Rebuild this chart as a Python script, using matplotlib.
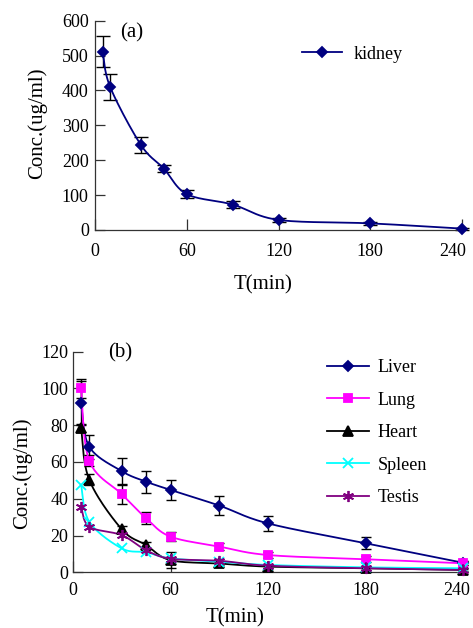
import numpy as np
import matplotlib.pyplot as plt
import matplotlib.transforms as mtransforms

plt.rcParams['font.family'] = ['Liberation Serif', 'DejaVu Serif']

# sampling times (min)
t = [5, 10, 30, 45, 60, 90, 120, 180, 240]

# (a) kidney
kidney = [511, 409, 244, 176, 103, 73, 29, 19, 4]
kidney_err = [45, 37, 22, 10, 11, 10, 6, 4, 3]

# (b) other tissues
liver = [92, 68.3, 55, 49.3, 44.8, 36.3, 26.6, 15.8, 5.2]
liver_err = [11.8, 6.5, 7, 6, 5.5, 5, 4.1, 3.3, 1]
lung = [100, 60.7, 42.5, 29.4, 19.4, 14, 9.4, 7.1, 4.9]
lung_err = [5, 3, 5.2, 3.3, 2.4, 2, 1.5, 1.5, 1]
heart = [78.5, 50.3, 23.4, 14.8, 6.6, 4.8, 3.1, 2.2, 1.3]
heart_err = [2, 3, 2, 1.5, 4.5, 1, 1, 1, 0.5]
spleen = [47.5, 27.5, 13, 10.9, 7.6, 5.8, 4, 2.7, 2.2]
testis = [35.6, 24.8, 20.2, 12, 7.4, 6.3, 3.6, 2.2, 1.3]

W, H = 473, 628


def smooth(x, y, sx, sy, n=25):
    # bezier smoothing like the spreadsheet "smoothed line" option
    p = np.column_stack([np.asarray(x, float) * sx, np.asarray(y, float) * sy])
    pts = [p[0]] + list(p) + [p[-1]]
    out = []
    s = np.linspace(0, 1, n)[:, None]
    for i in range(1, len(pts) - 2):
        p0, p1, p2, p3 = pts[i - 1], pts[i], pts[i + 1], pts[i + 2]
        c1 = p1 + (p2 - p0) / 6
        c2 = p2 - (p3 - p1) / 6
        seg = (1 - s) ** 3 * p1 + 3 * (1 - s) ** 2 * s * c1 + 3 * (1 - s) * s ** 2 * c2 + s ** 3 * p2
        out.append(seg)
    out = np.vstack(out)
    return out[:, 0] / sx, out[:, 1] / sy


def style(ax, ymax, ystep, xpad, ypad, last_shift):
    ax.set_xlim(0, 240)
    ax.set_ylim(0, ymax)
    ax.set_xticks([0, 60, 120, 180, 240])
    ax.set_yticks(np.arange(0, ymax + 1, ystep))
    for side in ['top', 'right']:
        ax.spines[side].set_visible(False)
    for side in ['left', 'bottom']:
        ax.spines[side].set_linewidth(0.9)
        ax.spines[side].set_color('#333333')
    ax.tick_params(axis='x', direction='in', length=8, width=0.9, pad=xpad,
                   labelsize=13, color='#333333')
    ax.tick_params(axis='y', direction='in', length=7, width=0.9, pad=ypad,
                   labelsize=13, color='#333333')
    # keep the "240" label inside the figure
    lab = ax.get_xticklabels()[-1]
    off = mtransforms.ScaledTranslation(last_shift / 100, 0, fig.dpi_scale_trans)
    lab.set_transform(lab.get_transform() + off)


def series(ax, x, y, err, color, marker, ms, label, sx, sy, capsize):
    if err is not None:
        ax.errorbar(x, y, yerr=err, fmt='none', ecolor='black', elinewidth=1,
                    capsize=capsize, capthick=1, zorder=2, clip_on=False)
    xs, ys = smooth(x, y, sx, sy)
    ax.plot(xs, ys, color=color, lw=1.3, zorder=3, clip_on=False)
    ax.plot(x, y, linestyle='none', marker=marker, ms=ms, color=color,
            mec=color, mew=1.3, zorder=4, clip_on=False)
    ax.plot([], [], color=color, lw=1.3, marker=marker, ms=ms, mew=1.3, label=label)


fig = plt.figure(figsize=(W / 100, H / 100), dpi=100)

# ---- (a) kidney
ax1 = fig.add_axes([95 / W, 1 - 230 / H, 367 / W, 209.3 / H])
sx1, sy1 = 367 / 240, 209.3 / 600
series(ax1, t, kidney, kidney_err, '#000080', 'D', 5.5, 'kidney', sx1, sy1, 4.7)
style(ax1, 600, 100, 9.5, 4.5, -9)
ax1.set_ylabel('Conc.(ug/ml)', fontsize=15)
ax1.yaxis.set_label_coords(-0.131, 0.511)
ax1.set_xlabel('T(min)', fontsize=15)
ax1.xaxis.set_label_coords(0.458, -0.215)
ax1.text(0.068, 0.941, '(a)', transform=ax1.transAxes, fontsize=15, va='center')
ax1.legend(loc='upper left', bbox_to_anchor=(0.564, 0.88), frameon=False,
           fontsize=13, handlelength=2.2, handletextpad=0.65, borderpad=0,
           borderaxespad=0)

# ---- (b) other tissues
ax2 = fig.add_axes([73 / W, 1 - 572.3 / H, 390 / W, 220.6 / H])
sx2, sy2 = 390 / 240, 220.6 / 120
series(ax2, t, liver, liver_err, '#000080', 'D', 5.5, 'Liver', sx2, sy2, 3.8)
series(ax2, t, lung, lung_err, '#FF00FF', 's', 6, 'Lung', sx2, sy2, 3.8)
series(ax2, t, heart, heart_err, 'black', '^', 6.5, 'Heart', sx2, sy2, 3.8)
series(ax2, t, spleen, None, '#00FFFF', 'x', 7, 'Spleen', sx2, sy2, 3.8)
series(ax2, t, testis, None, '#800080', (6, 2, 0), 8, 'Testis', sx2, sy2, 3.8)
style(ax2, 120, 20, 7, 3.5, -6)
ax2.set_ylabel('Conc.(ug/ml)', fontsize=15)
ax2.yaxis.set_label_coords(-0.105, 0.45)
ax2.set_xlabel('T(min)', fontsize=15)
ax2.xaxis.set_label_coords(0.415, -0.162)
ax2.text(0.09, 0.994, '(b)', transform=ax2.transAxes, fontsize=15, va='center')
ax2.legend(loc='upper left', bbox_to_anchor=(0.651, 0.966), frameon=False,
           fontsize=13, handlelength=2.35, handletextpad=0.45, borderpad=0,
           borderaxespad=0, labelspacing=0.86)

fig.savefig('out.png', dpi=100)
